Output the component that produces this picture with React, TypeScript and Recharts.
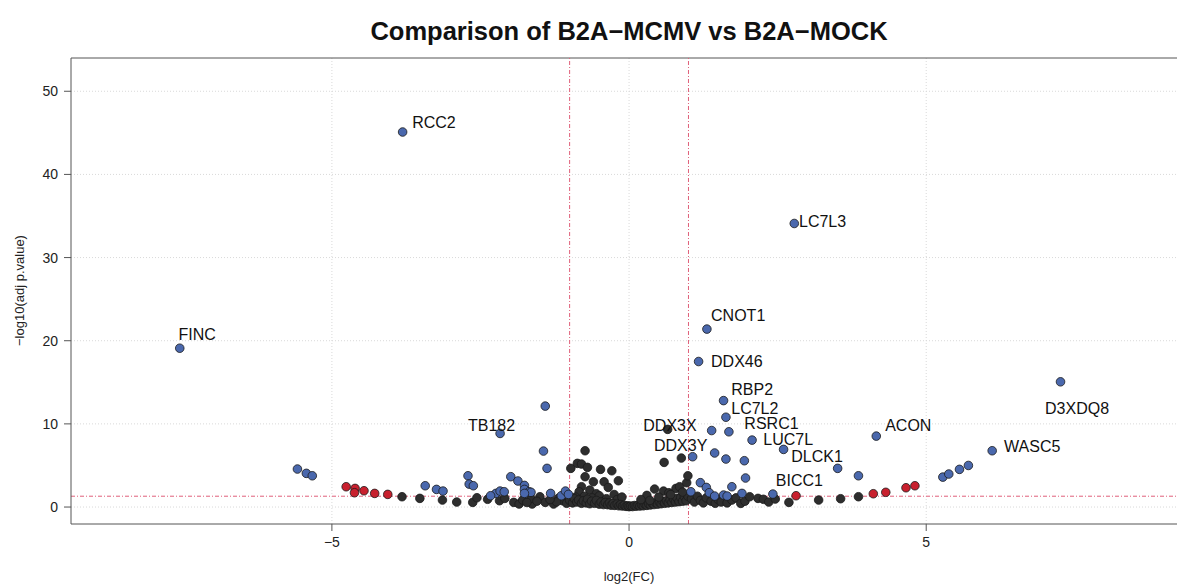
import {
  ScatterChart,
  Scatter,
  XAxis,
  YAxis,
  CartesianGrid,
  ReferenceLine,
} from "recharts";

const FONT = "'Liberation Sans', Arial, Helvetica, sans-serif";

const TITLE = "Comparison of B2A\u2212MCMV vs B2A\u2212MOCK";
const X_LABEL = "log2(FC)";
const Y_LABEL = "\u2212log10(adj p.value)";

const X_TICKS = [-5, 0, 5];
const Y_TICKS = [0, 10, 20, 30, 40, 50];
const X_DOMAIN = [-9.39, 9.22];
const Y_DOMAIN = [-2.04, 54];

const FC_CUTOFF = 1;
const P_CUTOFF = 1.301;

// significant (|log2FC| > 1 and padj < 0.05)
const blue = [
  [-7.56, 19.1], [-3.81, 45.1], [-5.58, 4.57], [-5.43, 4.05], [-5.33, 3.76],
  [-3.43, 2.56], [-3.24, 2.12], [-3.13, 1.92], [-2.71, 3.76], [-2.69, 2.76],
  [-2.62, 2.56], [-2.17, 8.85], [-1.99, 3.65], [-1.87, 3.13], [-1.76, 2.6],
  [-1.76, 2.12], [-1.68, 1.84], [-1.65, 1.77], [-1.76, 1.64], [-2.24, 1.64],
  [-2.17, 1.92], [-2.1, 1.84], [-2.33, 1.36], [-1.41, 12.14], [-1.44, 6.73],
  [-1.38, 4.65], [-1.32, 1.64], [-1.14, 1.36], [-1.07, 1.92], [-1.02, 1.52],
  [1.31, 21.4], [1.17, 17.5], [2.78, 34.1], [1.59, 12.8], [1.63, 10.8],
  [1.39, 9.2], [1.68, 9.05], [2.07, 8.05], [2.6, 6.93], [1.07, 6.05],
  [1.44, 6.5], [1.63, 5.77], [1.94, 5.57], [3.51, 4.65], [3.86, 3.76],
  [4.16, 8.53], [1.96, 3.49], [1.2, 2.93], [1.3, 2.36], [1.73, 2.44],
  [1.35, 1.72], [1.44, 1.32], [1.59, 1.44], [1.65, 1.32], [1.9, 1.64],
  [2.42, 1.56], [1.04, 1.84], [5.28, 3.6], [5.38, 3.97], [5.56, 4.53],
  [5.71, 5.0], [6.11, 6.77], [7.26, 15.06],
];

// large fold change but not significant
const red = [
  [-4.76, 2.44], [-4.61, 2.24], [-4.62, 1.72], [-4.46, 1.96], [-4.28, 1.64],
  [-4.06, 1.52], [2.81, 1.36], [4.11, 1.6], [4.32, 1.77], [4.66, 2.32],
  [4.81, 2.56],
];

const black = [
  [-3.82, 1.24], [-3.52, 1.04], [-3.14, 0.84], [-2.9, 0.6], [-2.63, 0.56],
  [-2.56, 1.12], [-2.38, 0.93], [-2.18, 0.76], [-2.09, 1.04], [-1.94, 0.56],
  [-1.85, 0.36], [-1.79, 0.84], [-1.63, 0.36], [-1.65, 1.04], [-1.5, 1.24],
  [-1.41, 0.56], [-1.27, 0.36], [-1.19, 1.04], [-1.12, 0.76], [-1.05, 0.45],
  [-1.22, 0.62], [-1.33, 0.9], [-1.55, 0.7], [-1.72, 0.55],
  [-0.98, 4.65], [-0.87, 5.25], [-0.8, 5.17], [-0.74, 6.77], [-0.7, 4.77],
  [-0.48, 4.53], [-0.29, 4.36], [-0.74, 3.65], [-0.6, 3.04], [-0.42, 3.04],
  [-0.18, 3.16], [-0.8, 2.44], [-0.66, 2.04], [-0.35, 2.36], [-0.84, 1.84],
  [-0.55, 1.6], [-0.9, 1.2], [-0.75, 1.3], [-0.62, 1.1], [-0.5, 1.35],
  [-0.38, 1.0], [-0.25, 1.5], [-0.2, 0.9], [-0.12, 1.2],
  [-1.0, 0.8], [-0.95, 0.5], [-0.92, 1.0], [-0.88, 0.6], [-0.85, 0.85],
  [-0.8, 0.45], [-0.77, 0.75], [-0.72, 0.5], [-0.7, 0.95], [-0.66, 0.4],
  [-0.63, 0.7], [-0.58, 0.45], [-0.55, 0.8], [-0.5, 0.35], [-0.47, 0.6],
  [-0.43, 0.3], [-0.4, 0.55], [-0.36, 0.28], [-0.33, 0.5], [-0.3, 0.22],
  [-0.27, 0.42], [-0.24, 0.2], [-0.2, 0.35], [-0.17, 0.15], [-0.14, 0.3],
  [-0.11, 0.12], [-0.08, 0.22], [-0.05, 0.08], [-0.02, 0.15], [0.0, 0.05],
  [0.03, 0.12], [0.06, 0.06], [0.09, 0.18], [0.12, 0.1], [0.15, 0.22],
  [0.18, 0.12], [0.21, 0.28], [0.24, 0.15], [0.27, 0.32], [0.3, 0.2],
  [0.33, 0.38], [0.36, 0.25], [0.39, 0.45], [0.42, 0.3], [0.45, 0.52],
  [0.48, 0.35], [0.51, 0.6], [0.54, 0.4], [0.57, 0.68], [0.6, 0.45],
  [0.63, 0.75], [0.66, 0.5], [0.69, 0.85], [0.72, 0.55], [0.75, 0.95],
  [0.78, 0.6], [0.81, 1.05], [0.84, 0.65], [0.87, 1.15], [0.9, 0.7],
  [0.93, 1.25], [0.96, 0.75], [0.99, 1.3],
  [0.43, 2.16], [0.79, 2.24], [0.85, 2.44], [0.97, 2.92], [0.58, 1.92],
  [0.67, 1.72], [0.99, 3.76], [0.59, 5.37], [0.88, 5.89], [0.65, 9.34],
  [0.3, 1.4], [0.5, 1.2], [0.7, 1.5], [0.2, 0.9], [0.35, 0.8], [0.9, 1.8],
  [1.05, 1.0], [1.1, 0.6], [1.15, 1.3], [1.2, 0.8], [1.25, 0.5],
  [1.3, 1.1], [1.38, 0.7], [1.45, 0.45], [1.5, 0.9], [1.55, 0.6],
  [1.65, 0.5], [1.73, 0.84], [1.8, 1.1], [1.88, 0.44], [1.95, 0.7],
  [2.03, 1.24], [2.17, 1.04], [2.26, 0.93], [2.35, 0.6], [2.46, 0.96],
  [2.69, 0.56], [3.19, 0.84], [3.56, 1.0], [3.86, 1.24],
];

// gene labels, anchored at the left/middle of the text
const LABELS: [string, number, number][] = [
  ["RCC2", -3.65, 46.2],
  ["FINC", -7.58, 20.8],
  ["LC7L3", 2.86, 34.3],
  ["CNOT1", 1.38, 23.0],
  ["DDX46", 1.38, 17.5],
  ["RBP2", 1.72, 14.1],
  ["LC7L2", 1.72, 11.9],
  ["DDX3X", 0.24, 9.86],
  ["RSRC1", 1.94, 10.1],
  ["TB182", -2.71, 9.86],
  ["ACON", 4.31, 9.86],
  ["LUC7L", 2.26, 8.1],
  ["DDX3Y", 0.42, 7.45],
  ["WASC5", 6.31, 7.33],
  ["DLCK1", 2.73, 6.13],
  ["BICC1", 2.47, 3.25],
  ["D3XDQ8", 7.0, 11.9],
];

const toRows = (pts: number[][]) => pts.map(([x, y]) => ({ x, y }));

const Dot = (fill: string) => (p: any) => (
  <circle cx={p.cx} cy={p.cy} r={4.3} fill={fill} stroke="#1a1a1a" strokeWidth={0.8} />
);

const LabelText = (p: any) => (
  <text
    x={p.cx}
    y={p.cy}
    fontSize={16}
    fontFamily={FONT}
    fill="#111"
    dominantBaseline="central"
  >
    {p.payload.name}
  </text>
);

export default function App() {
  const labelRows = LABELS.map(([name, x, y]) => ({ name, x, y }));
  const axisTick = { fontSize: 14, fill: "#222", fontFamily: FONT };
  return (
    <div
      style={{
        position: "absolute",
        left: 0,
        top: 0,
        width: 1177,
        height: 585,
        background: "#fff",
        fontFamily: FONT,
      }}
    >
      <div
        style={{
          position: "absolute",
          left: 0,
          width: 1258,
          top: 17,
          textAlign: "center",
          fontSize: 25.5,
          fontWeight: "bold",
          color: "#111",
        }}
      >
        {TITLE}
      </div>
      <div
        style={{
          position: "absolute",
          left: 529,
          width: 200,
          top: 569,
          textAlign: "center",
          fontSize: 13,
          color: "#222",
        }}
      >
        {X_LABEL}
      </div>
      <div
        style={{
          position: "absolute",
          left: 19 - 100,
          width: 200,
          top: 291 - 8,
          textAlign: "center",
          fontSize: 13,
          color: "#222",
          transform: "rotate(-90deg)",
        }}
      >
        {Y_LABEL}
      </div>
      <ScatterChart
        width={1177}
        height={585}
        margin={{ top: 58, right: 0, bottom: 0, left: 11 }}
      >
        <CartesianGrid
          stroke="#d9d9d9"
          strokeDasharray="1 2"
          horizontalValues={Y_TICKS}
          verticalValues={X_TICKS}
        />
        <XAxis
          type="number"
          dataKey="x"
          domain={X_DOMAIN}
          ticks={X_TICKS}
          allowDataOverflow
          height={61}
          axisLine={{ stroke: "#555" }}
          tickLine={{ stroke: "#555" }}
          tickSize={7}
          tickMargin={6}
          tick={axisTick}
          tickFormatter={(v: number) => (v < 0 ? "\u2212" + Math.abs(v) : String(v))}
        />
        <YAxis
          type="number"
          dataKey="y"
          domain={Y_DOMAIN}
          ticks={Y_TICKS}
          allowDataOverflow
          width={60}
          axisLine={{ stroke: "#555" }}
          tickLine={{ stroke: "#555" }}
          tickSize={7}
          tickMargin={6}
          tick={axisTick}
        />
        <ReferenceLine y={Y_DOMAIN[1]} stroke="#555" />
        <ReferenceLine x={-FC_CUTOFF} stroke="#e0607a" strokeDasharray="4 2 1 2" />
        <ReferenceLine x={FC_CUTOFF} stroke="#e0607a" strokeDasharray="4 2 1 2" />
        <ReferenceLine y={P_CUTOFF} stroke="#e0607a" strokeDasharray="4 2 1 2" />
        <Scatter data={toRows(black)} shape={Dot("#2e2e2e")} isAnimationActive={false} />
        <Scatter data={toRows(red)} shape={Dot("#c8202e")} isAnimationActive={false} />
        <Scatter data={toRows(blue)} shape={Dot("#4a68ad")} isAnimationActive={false} />
        <Scatter data={labelRows} shape={LabelText} isAnimationActive={false} />
      </ScatterChart>
    </div>
  );
}
